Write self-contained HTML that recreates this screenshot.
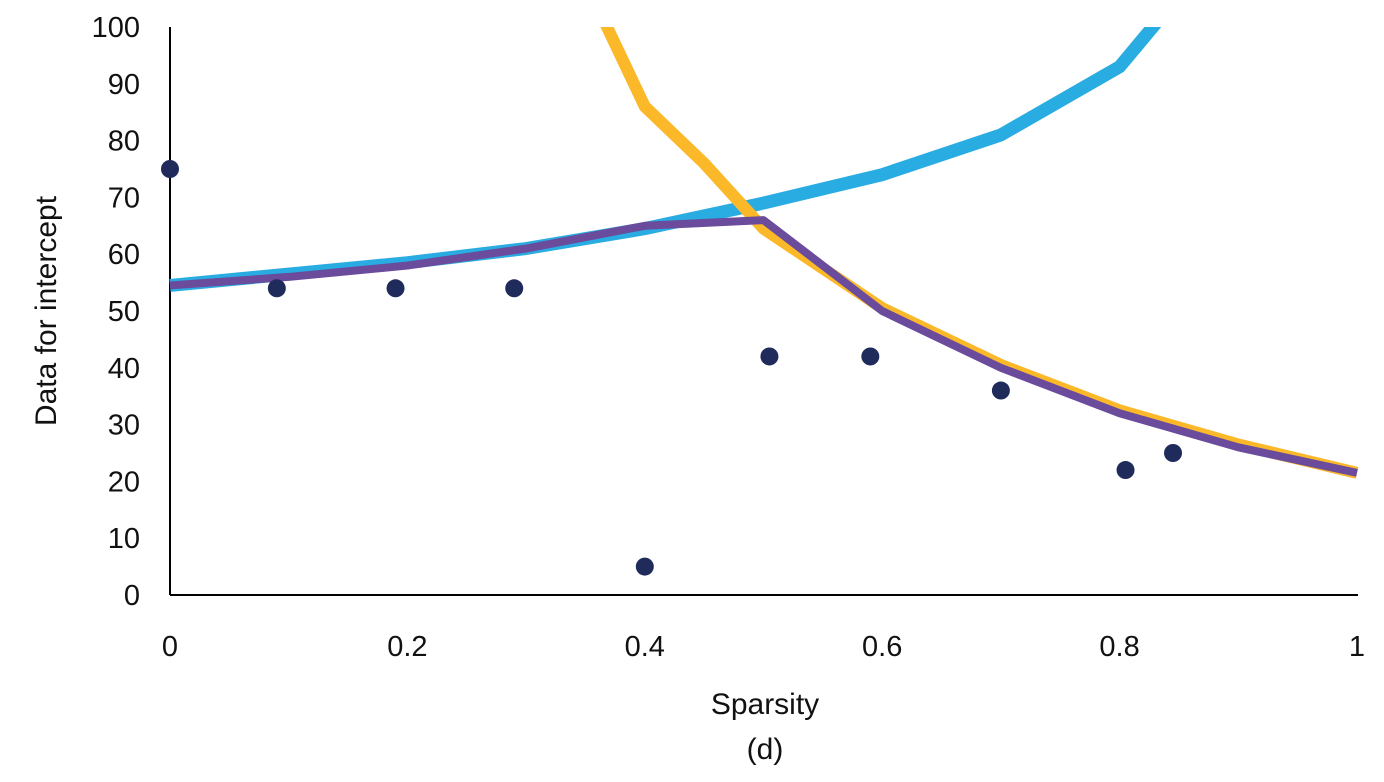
<!DOCTYPE html>
<html><head><meta charset="utf-8"><style>
body{margin:0;background:#fff;}
svg{display:block;font-family:"Liberation Sans",sans-serif;}
</style></head><body>
<svg id="chart" width="1384" height="782">
<defs><clipPath id="plot"><rect x="150" y="27" width="1210" height="570"/></clipPath></defs>
<g id="axes"></g>
<g id="series" clip-path="url(#plot)"></g>
<text x="765" y="714" font-size="30" text-anchor="middle" fill="#111">Sparsity</text>
<text x="765" y="759" font-size="30" text-anchor="middle" fill="#111">(d)</text>
<text transform="translate(56,311) rotate(-90)" font-size="30" text-anchor="middle" fill="#111">Data for intercept</text>
</svg>
<script>
const xTicks=[0,0.2,0.4,0.6,0.8,1];
const xTickLabels=["0","0.2","0.4","0.6","0.8","1"];
const yTicks=[0,10,20,30,40,50,60,70,80,90,100];
const dotX=[0,0.09,0.19,0.29,0.4,0.505,0.59,0.7,0.805,0.845];
const dotY=[75,54,54,54,5,42,42,36,22,25];
const blueX=[0,0.1,0.2,0.3,0.4,0.5,0.6,0.7,0.8,0.9];
const blueY=[54.5,56.5,58.5,61,64.5,69,74,81,93,118];
const orangeX=[0.3,0.4,0.45,0.5,0.6,0.7,0.8,0.9,1];
const orangeY=[130,86,76,64.5,50.5,40.5,32.5,26.5,21.5];
const purpleX=[0,0.1,0.2,0.3,0.4,0.5,0.6,0.7,0.8,0.9,1];
const purpleY=[54.5,56,58,61,65,66,50,40,32,26,21.5];
const NS="http://www.w3.org/2000/svg";
const sx=v=>170+v*1187, sy=v=>595-v*5.68;
const axes=document.getElementById('axes'), series=document.getElementById('series');
function mk(t,a,p){const e=document.createElementNS(NS,t);for(const k in a)e.setAttribute(k,a[k]);p.appendChild(e);return e;}
let l=mk('line',{x1:170,y1:27,x2:170,y2:595,stroke:'#000','stroke-width':2},axes);


l=mk('line',{x1:170,y1:595,x2:1358,y2:595,stroke:'#000','stroke-width':2},axes);


yTicks.forEach(v=>{const t=mk('text',{x:140,y:sy(v)+10,'font-size':29,'text-anchor':'end',fill:'#111'},axes);t.textContent=v;

});
xTicks.forEach((v,i)=>{const t=mk('text',{x:sx(v),y:656,'font-size':29,'text-anchor':'middle',fill:'#111'},axes);t.textContent=xTickLabels[i];

});
function line(xs,ys,c,w,name){const p=mk('polyline',{points:xs.map((x,i)=>sx(x)+','+sy(ys[i])).join(' '),fill:'none',stroke:c,'stroke-width':w,'stroke-linejoin':'round'},series);

}
line(blueX,blueY,'#29ace2',13,'blue-curve');
line(orangeX,orangeY,'#fbb829',12,'orange-curve');
line(purpleX,purpleY,'#6a4b9c',8,'purple-curve');
dotX.forEach((x,i)=>{const c=mk('circle',{cx:sx(x),cy:sy(dotY[i]),r:9,fill:'#1f2b5b'},series);

});
</script>
</body></html>
